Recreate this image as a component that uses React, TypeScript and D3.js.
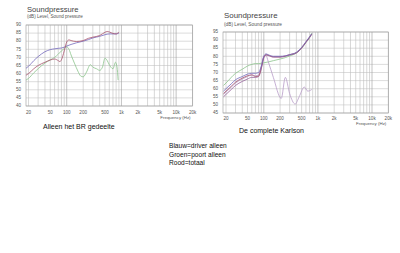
import React from "react";
import * as d3 from "d3";

// ---------- data ----------
const freqTicks = [20, 30, 40, 50, 60, 70, 80, 90, 100, 200, 300, 400, 500, 600, 700, 800, 900, 1000, 2000, 3000, 4000, 5000, 6000, 7000, 8000, 9000, 10000, 20000];
const freqLabelValues = [20, 50, 100, 200, 500, 1000, 2000, 5000, 10000, 20000];
const freqLabelTexts = ["20", "50", "100", "200", "500", "1k", "2k", "5k", "10k", "20k"];
const dbTicksA = [40, 45, 50, 55, 60, 65, 70, 75, 80, 85, 90];
const dbTicksB = [45, 50, 55, 60, 65, 70, 75, 80, 85, 90, 95];

// Chart A: "Alleen het BR gedeelte"
const blueAFreq = [18, 20, 25, 30, 40, 50, 60, 70, 80, 90, 100, 120, 150, 200, 250, 300, 400, 500, 600, 700, 800, 900];
const blueAVal = [63.3, 64.5, 68, 70.5, 73.5, 74.8, 75.3, 75.6, 75.8, 76.3, 77, 78, 79, 80, 81, 82, 83, 84, 84.5, 84.5, 84.5, 85];
const redAFreq = [18, 20, 25, 30, 40, 50, 60, 70, 75, 80, 90, 100, 110, 120, 150, 200, 250, 300, 400, 500, 550, 600, 700, 800, 900];
const redAVal = [59, 60, 63, 65, 67, 68.4, 69, 68, 67.4, 68.5, 74, 79.5, 80.8, 80.4, 79.8, 80.4, 81.8, 82.5, 83.5, 85.5, 86, 85.7, 84.8, 84.5, 85.7];
const greenAFreq = [18, 20, 25, 30, 40, 50, 60, 70, 80, 90, 100, 110, 120, 140, 160, 180, 200, 230, 270, 300, 350, 400, 450, 500, 550, 600, 700, 780, 830, 870];
const greenAVal = [56, 57, 60.5, 63, 66.5, 68.5, 70, 72, 74, 75.5, 76.5, 75, 71.5, 66, 61.5, 58.5, 58, 61, 65.5, 64, 63, 62, 64, 69.5, 68, 65.5, 63, 67, 64, 56];

// Chart B: "De complete Karlson"
const greenBFreq = [18, 20, 30, 40, 50, 60, 70, 80, 100, 120, 150, 200, 250, 300, 350, 400, 500, 600, 700, 770];
const greenBVal = [62, 63.5, 69.5, 72, 74, 75, 75.5, 75.5, 76, 76.5, 77.3, 78.3, 79.2, 80.2, 81, 82, 85, 88.5, 91.5, 94.3];
const mainBFreq = [18, 20, 25, 30, 40, 50, 60, 70, 80, 90, 100, 110, 120, 150, 200, 250, 300, 400, 500, 600, 700, 770];
const blueBVal = [58.5, 60, 63, 65.5, 67.5, 69, 69.5, 69.5, 70, 74, 80, 81.5, 81, 80, 80, 80.3, 81, 82.5, 85.5, 89, 92, 94];
const redBVal = [57, 58.5, 61.5, 64, 66.5, 68, 68.5, 67.5, 67.8, 73, 79.5, 81, 80.7, 79.7, 79.7, 80.2, 81, 82.3, 85.3, 88.8, 91.8, 93.8];
const purpleBVal = [55, 56.5, 59.5, 62, 64.5, 66, 67, 67, 67.5, 72.5, 79, 80.8, 80.5, 79.5, 79.5, 80, 80.8, 82, 85, 88.5, 91.5, 93.5];
const dipBFreq = [18, 20, 25, 30, 40, 50, 60, 70, 80, 90, 100, 110, 120, 150, 210, 250, 300, 380, 450, 560, 650, 770];
const dipBVal = [56.5, 58, 61, 63.5, 66, 67.5, 68.5, 68, 68.5, 73.5, 80, 80.5, 77, 67, 54, 67, 57, 50.5, 55, 61, 58.5, 59.5];

const legendLines = ["Blauw=driver alleen", "Groen=poort alleen", "Rood=totaal"];

const COLORS = {
  blue: "#7468bc",
  red: "#a8566e",
  green: "#8cc48c",
  purple: "#94609a",
  lavender: "#b89cc8",
};

type Series = { freq: number[]; val: number[]; color: string };

type ChartProps = {
  left: number; // plot left border
  f20: number; // x of 20 Hz
  right: number; // x of 20 kHz
  top: number;
  bottom: number;
  dbTicks: number[];
  series: Series[];
  titleY: number;
  subY: number;
  tickLabelY: number;
  freqLabelY: number;
  fontScale: number;
};

function Chart(p: ChartProps) {
  const x = d3.scaleLog().domain([20, 20000]).range([p.f20, p.right]);
  const y = d3.scaleLinear().domain([p.dbTicks[0], p.dbTicks[p.dbTicks.length - 1]]).range([p.bottom, p.top]);
  const line = d3
    .line<[number, number]>()
    .x((d) => x(d[0]))
    .y((d) => y(d[1]))
    .curve(d3.curveMonotoneX);
  const font = "'Liberation Sans', Arial, sans-serif";
  return (
    <g>
      <text x={p.left + 1} y={p.titleY} fontFamily={font} fontSize={7.6 * p.fontScale} fill="#444" dominantBaseline="middle">
        Soundpressure
      </text>
      <text x={p.left + 1} y={p.subY} fontFamily={font} fontSize={4.6 * p.fontScale} fill="#555" dominantBaseline="middle">
        (dB)  Level, Sound pressure
      </text>
      {p.dbTicks.map((t) => (
        <line key={"h" + t} x1={p.left} x2={p.right} y1={y(t)} y2={y(t)} stroke="#c4c4c4" strokeWidth={0.6} />
      ))}
      {freqTicks.map((f) => (
        <line
          key={"v" + f}
          x1={x(f)}
          x2={x(f)}
          y1={p.top}
          y2={p.bottom}
          stroke={f === 100 || f === 1000 || f === 10000 ? "#9a9a9a" : "#bdbdbd"}
          strokeWidth={0.6}
        />
      ))}
      <rect x={p.left} y={p.top} width={p.right - p.left} height={p.bottom - p.top} fill="none" stroke="#9a9a9a" strokeWidth={0.6} />
      {p.dbTicks.map((t) => (
        <text key={"yl" + t} x={p.left - 5} y={y(t)} fontFamily={font} fontSize={4.6} fill="#555" textAnchor="end" dominantBaseline="middle">
          {t}
        </text>
      ))}
      {freqLabelValues.map((f, i) => (
        <text key={"xl" + f} x={x(f)} y={p.tickLabelY} fontFamily={font} fontSize={4.6} fill="#555" textAnchor="middle" dominantBaseline="middle">
          {freqLabelTexts[i]}
        </text>
      ))}
      <text x={p.right - 2} y={p.freqLabelY} fontFamily={font} fontSize={4.4} fill="#555" textAnchor="end" dominantBaseline="middle">
        Frequency  (Hz)
      </text>
      {p.series.map((s, i) => (
        <path
          key={"s" + i}
          d={line(s.freq.map((f, j) => [f, s.val[j]] as [number, number])) || ""}
          fill="none"
          stroke={s.color}
          strokeWidth={0.8}
        />
      ))}
    </g>
  );
}

export default function App() {
  const font = "'Liberation Sans', Arial, sans-serif";
  return (
    <svg width={400} height={253} style={{ position: "absolute", left: 0, top: 0, background: "#fff" }}>
      <rect x={0} y={0} width={400} height={253} fill="#fff" />
      <Chart
        left={26}
        f20={28.5}
        right={192.6}
        top={25}
        bottom={106}
        dbTicks={dbTicksA}
        titleY={10}
        subY={17}
        tickLabelY={112.5}
        freqLabelY={118}
        fontScale={1}
        series={[
          { freq: greenAFreq, val: greenAVal, color: COLORS.green },
          { freq: blueAFreq, val: blueAVal, color: COLORS.blue },
          { freq: redAFreq, val: redAVal, color: COLORS.red },
        ]}
      />
      <Chart
        left={223}
        f20={226}
        right={388.3}
        top={32}
        bottom={113}
        dbTicks={dbTicksB}
        titleY={16}
        subY={24.3}
        tickLabelY={118.5}
        freqLabelY={123.5}
        fontScale={1.04}
        series={[
          { freq: greenBFreq, val: greenBVal, color: COLORS.green },
          { freq: dipBFreq, val: dipBVal, color: COLORS.lavender },
          { freq: mainBFreq, val: purpleBVal, color: COLORS.purple },
          { freq: mainBFreq, val: redBVal, color: COLORS.red },
          { freq: mainBFreq, val: blueBVal, color: COLORS.blue },
        ]}
      />
      <text x={43} y={127} fontFamily={font} fontSize={7} fill="#111" dominantBaseline="middle">
        Alleen het BR gedeelte
      </text>
      <text x={239} y={130.7} fontFamily={font} fontSize={7} fill="#111" dominantBaseline="middle">
        De complete Karlson
      </text>
      {legendLines.map((t, i) => (
        <text key={t} x={169} y={146.7 + i * 8.2} fontFamily={font} fontSize={6.6} fill="#111" dominantBaseline="middle">
          {t}
        </text>
      ))}
    </svg>
  );
}
